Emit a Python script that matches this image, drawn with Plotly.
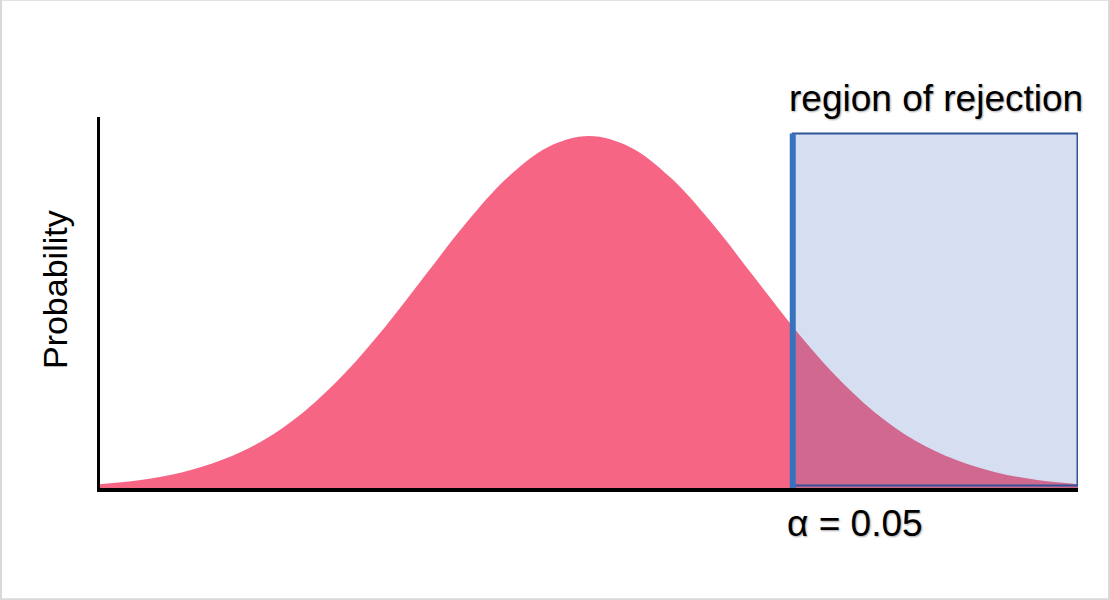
import plotly.graph_objects as go

# Curve readings (z in standard units, relative height with peak = 1)
z_values = [-3.0, -2.75, -2.5, -2.25, -2.0, -1.75, -1.5, -1.25, -1.0, -0.75, -0.5, -0.25, 0.0,
            0.25, 0.5, 0.75, 1.0, 1.25, 1.5, 1.75, 2.0, 2.25, 2.5, 2.75, 3.0]
density = [0.011, 0.023, 0.044, 0.080, 0.135, 0.216, 0.325, 0.458, 0.607, 0.755, 0.882, 0.969, 1.0,
           0.969, 0.882, 0.755, 0.607, 0.458, 0.325, 0.216, 0.135, 0.080, 0.044, 0.023, 0.011]

critical_z = 1.25
z_max = 2.997
region_top = 1.007
region_label = "region of rejection"
alpha_label = "α = 0.05"
y_label = "Probability"

PINK = "#F76585"
OVERLAP = "#D16890"
REGION_FILL = "#D6DFF1"
REGION_LINE = "#2F5597"
CRIT_LINE = "#3673BC"

left_x = [z for z in z_values if z <= critical_z]
left_y = [d for z, d in zip(z_values, density) if z <= critical_z]
right_x = [z for z in z_values if z >= critical_z]
right_y = [d for z, d in zip(z_values, density) if z >= critical_z]

fig = go.Figure()
fig.add_trace(go.Scatter(x=left_x, y=left_y, mode="lines", fill="tozeroy",
                         fillcolor=PINK, line=dict(width=0, shape="spline", color=PINK),
                         hoverinfo="skip", showlegend=False))
fig.add_trace(go.Scatter(x=right_x, y=right_y, mode="lines", fill="tozeroy",
                         fillcolor=OVERLAP, line=dict(width=0, shape="spline", color=OVERLAP),
                         hoverinfo="skip", showlegend=False))

# rejection region background
fig.add_shape(type="rect", xref="x", yref="y", x0=critical_z, x1=z_max, y0=0, y1=region_top,
              fillcolor=REGION_FILL, line=dict(width=0), layer="below")
# rejection region border
fig.add_shape(type="rect", xref="x", yref="y", x0=critical_z, x1=z_max, y0=0.007, y1=region_top,
              fillcolor="rgba(0,0,0,0)", line=dict(color=REGION_LINE, width=2), layer="above")
# critical value line
fig.add_shape(type="line", xref="x", yref="y", x0=critical_z, x1=critical_z, y0=-0.008, y1=region_top,
              line=dict(color=CRIT_LINE, width=6), layer="above")

# figure border
fig.add_shape(type="rect", xref="paper", yref="paper", x0=-0.1012, x1=1.0317, y0=-0.3, y1=1.316,
              line=dict(color="#D9D9D9", width=2), fillcolor="rgba(0,0,0,0)", layer="above")

shadow = "1px 1px 2px rgba(0,0,0,0.35)"
fig.add_annotation(text=region_label, xref="paper", yref="paper", x=0.7025, y=1.0486,
                   xanchor="left", yanchor="middle", showarrow=False,
                   font=dict(family="Liberation Sans, Arial", size=37, color="black", shadow=shadow))
fig.add_annotation(text=alpha_label, xref="paper", yref="paper", x=0.7005, y=-0.097,
                   xanchor="left", yanchor="middle", showarrow=False,
                   font=dict(family="Liberation Sans, Arial", size=37, color="black", shadow=shadow))
fig.add_annotation(text=y_label, xref="paper", yref="paper", x=-0.0465, y=0.535,
                   xanchor="center", yanchor="middle", showarrow=False, textangle=-90,
                   font=dict(family="Liberation Sans, Arial", size=34, color="black"))

fig.update_layout(
    width=1110, height=600,
    margin=dict(l=100, r=32, t=117, b=112),
    paper_bgcolor="white", plot_bgcolor="white",
    xaxis=dict(range=[-3, 3], showgrid=False, zeroline=False, showticklabels=False, ticks="",
               showline=True, linecolor="black", linewidth=4),
    yaxis=dict(range=[0, 1.054], showgrid=False, zeroline=False, showticklabels=False, ticks="",
               showline=True, linecolor="black", linewidth=3),
)

fig.write_html("out.html", config={"displayModeBar": False},
               post_script="document.body.style.margin='0';document.body.style.padding='0';")
